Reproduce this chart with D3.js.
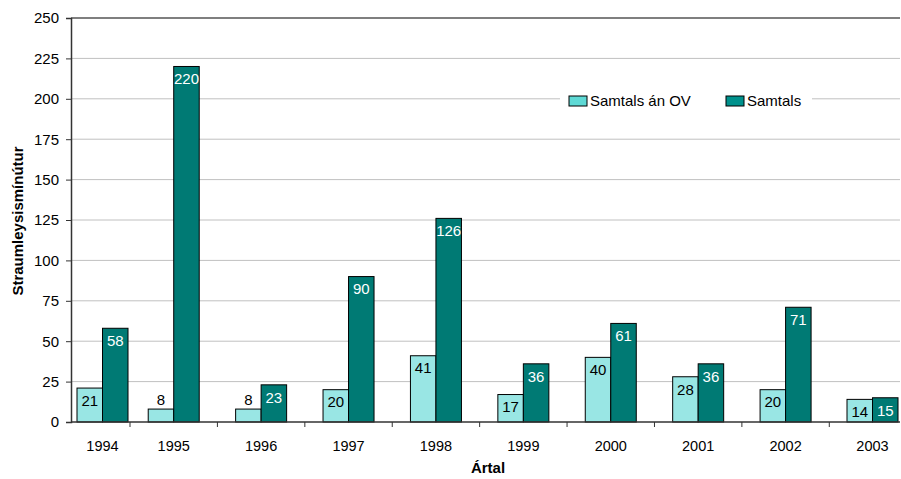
<!DOCTYPE html>
<html><head><meta charset="utf-8">
<script src="https://cdn.jsdelivr.net/npm/d3@7"></script>
<style>body{margin:0;background:#fff}svg{display:block;font-family:"Liberation Sans",Arial,sans-serif}</style>
</head><body><svg id="c" width="901" height="479"></svg>
<script>
const categories = ["1994","1995","1996","1997","1998","1999","2000","2001","2002","2003"];
const seriesNames = ["Samtals án OV","Samtals"];
const valuesOV = [21,8,8,20,41,17,40,28,20,14];
const valuesTotal = [58,220,23,90,126,36,61,36,71,15];
const yTicks = [0,25,50,75,100,125,150,175,200,225,250];
const fills = ["#99e6e4","#007a74"];
const legendFills = ["#5ed9d5","#00918c"];
const labelColors = ["#000","#fff"];

const svg = d3.select("#c");
const L = 71, R = 900, T = 18, B = 422;
const y = d3.scaleLinear().domain([0,250]).range([B,T]);
const x = d3.scaleBand().domain(categories).range([42.6, 916.7]).paddingInner(0).paddingOuter(0);
const bw = x.bandwidth();
const barW = 25.5;
const sub = d3.scaleBand().domain([0,1]).range([0, 2*barW]);
const FS = 15;

// gridlines
svg.append("g").selectAll("line").data(yTicks.filter(d=>d>0 && d<250)).join("line")
  .attr("x1",L).attr("x2",R).attr("y1",d=>y(d)).attr("y2",d=>y(d))
  .attr("stroke","#c0c0c0").attr("stroke-width",1);
svg.append("line").attr("x1",L).attr("x2",R).attr("y1",y(250)).attr("y2",y(250)).attr("stroke","#555").attr("stroke-width",1.5);

// y axis
const yAxis = d3.axisLeft(y).tickValues(yTicks).tickSize(5).tickPadding(7);
const gy = svg.append("g").attr("transform",`translate(${L},0)`).call(yAxis);
gy.select(".domain").attr("stroke","#333").attr("stroke-width",1.5);
gy.selectAll(".tick line").attr("stroke","#333");
gy.selectAll("text").attr("font-size",FS).attr("fill","#000").attr("font-family","Liberation Sans, Arial, sans-serif");

function groupLeft(c){
  let g = x(c) + (bw - 2*barW)/2;
  g = Math.max(g, L + 6);
  g = Math.min(g, R - 2 - 2*barW);
  return g;
}
const data = categories.map((c,i)=>({c, vals:[valuesOV[i], valuesTotal[i]]}));
const groups = svg.append("g").selectAll("g").data(data).join("g")
  .attr("transform",d=>`translate(${groupLeft(d.c)},0)`);
groups.selectAll("rect").data(d=>d.vals.map((v,k)=>({v,k}))).join("rect")
  .attr("x",d=>sub(d.k)).attr("width",barW)
  .attr("y",d=>y(d.v)).attr("height",d=>B - y(d.v))
  .attr("fill",d=>fills[d.k]).attr("stroke","#000").attr("stroke-width",1);
const inside = v => y(v) + 12.5 + 7.5 <= B;
groups.selectAll("text").data(d=>d.vals.map((v,k)=>({v,k}))).join("text")
  .attr("x",d=>sub(d.k)+barW/2)
  .attr("y",d=> inside(d.v) ? y(d.v)+12.5 : y(d.v)-9)
  .attr("dy","0.35em").attr("text-anchor","middle").attr("font-size",FS)
  .attr("fill",d=> inside(d.v) ? labelColors[d.k] : "#000")
  .text(d=>d.v);

// x axis
svg.append("line").attr("x1",L).attr("x2",R).attr("y1",B).attr("y2",B).attr("stroke","#333").attr("stroke-width",1.5);
svg.append("g").selectAll("line").data(categories.slice(1)).join("line")
  .attr("x1",d=>x(d)).attr("x2",d=>x(d)).attr("y1",B).attr("y2",B+5).attr("stroke","#333");
svg.append("g").selectAll("text").data(categories).join("text")
  .attr("x",d=>groupLeft(d)+barW).attr("y",451)
  .attr("text-anchor","middle").attr("font-size",14.5).text(d=>d);

// axis titles
svg.append("text").attr("x",488).attr("y",473).attr("text-anchor","middle")
  .attr("font-size",15).attr("font-weight","bold").text("Ártal");
svg.append("text").attr("transform","translate(18,221) rotate(-90)").attr("dy","0.35em").attr("text-anchor","middle")
  .attr("font-size",15).attr("font-weight","bold").text("Straumleysismínútur");

// legend
const lg = svg.append("g").attr("transform","translate(560,90)");
lg.append("rect").attr("x",0).attr("y",0).attr("width",252).attr("height",22).attr("fill","#fff");
const items = [{x:9,n:seriesNames[0],f:legendFills[0]},{x:166,n:seriesNames[1],f:legendFills[1]}];
items.forEach(it=>{
  lg.append("rect").attr("x",it.x).attr("y",6).attr("width",18).attr("height",10).attr("fill",it.f).attr("stroke","#000").attr("stroke-width",1);
  lg.append("text").attr("x",it.x+21).attr("y",11).attr("dy","0.35em").attr("font-size",FS).text(it.n);
});
</script></body></html>
